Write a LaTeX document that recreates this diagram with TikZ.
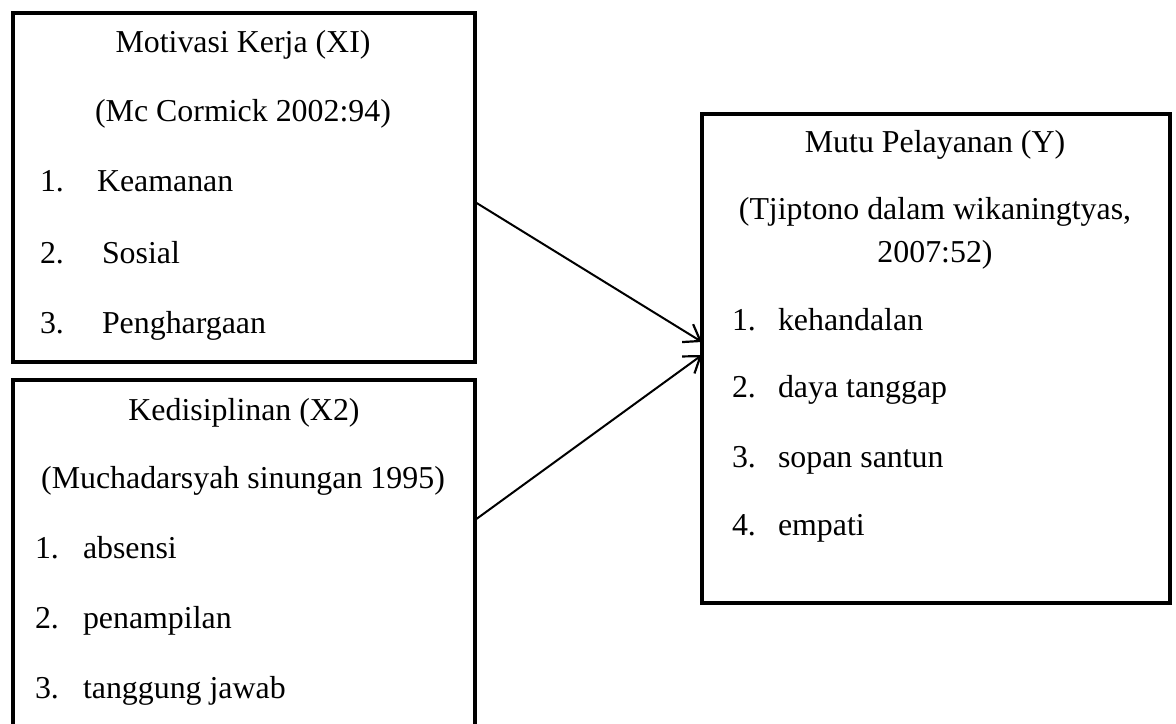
\documentclass[tikz,border=0pt]{standalone}
\usepackage{fontspec}
\setmainfont{Liberation Serif}
\usetikzlibrary{arrows.meta}
\begin{document}
\begin{tikzpicture}[x=1bp,y=-1bp,
  box/.style={draw,line width=4.5bp,inner sep=0pt,outer sep=0pt},
  txt/.style={inner sep=0pt,outer sep=0pt,font=\fontsize{32}{38}\selectfont},
  conn/.style={line width=2bp,-{Straight Barb[length=15bp,width=21bp,line width=2.2bp]}}]
\useasboundingbox (0,0) rectangle (1176,724);
\clip (0,0) rectangle (1176,724);
% boxes
\node[box,minimum width=462bp,minimum height=349bp] (b1) at (244,187.5) {};
\node[box,minimum width=462bp,minimum height=366bp] (b2) at (244,563) {};
\node[box,minimum width=468bp,minimum height=489bp] (b3) at (936,358.5) {};
% box 1 text
\node[txt,anchor=base] (t1a) at (243,53) {Motivasi Kerja (XI)};
\node[txt,anchor=base] (t1b) at (243,122) {(Mc Cormick 2002:94)};
\node[txt,anchor=base west] (n11) at (40,192) {1.};
\node[txt,anchor=base west] (i11) at (97,192) {Keamanan};
\node[txt,anchor=base west] (n12) at (40,263) {2.};
\node[txt,anchor=base west] (i12) at (102,263) {Sosial};
\node[txt,anchor=base west] (n13) at (40,333) {3.};
\node[txt,anchor=base west] (i13) at (102,333) {Penghargaan};
% box 2 text
\node[txt,anchor=base] (t2a) at (244,420) {Kedisiplinan (X2)};
\node[txt,anchor=base] (t2b) at (243,488) {(Muchadarsyah sinungan 1995)};
\node[txt,anchor=base west] (n21) at (35,558) {1.};
\node[txt,anchor=base west] (i21) at (83,558) {absensi};
\node[txt,anchor=base west] (n22) at (35,628) {2.};
\node[txt,anchor=base west] (i22) at (83,628) {penampilan};
\node[txt,anchor=base west] (n23) at (35,698) {3.};
\node[txt,anchor=base west] (i23) at (83,698) {tanggung jawab};
% box 3 text
\node[txt,anchor=base] (t3a) at (935,153) {Mutu Pelayanan (Y)};
\node[txt,anchor=base] (t3b) at (935,220) {(Tjiptono dalam wikaningtyas,};
\node[txt,anchor=base] (t3c) at (935,262) {2007:52)};
\node[txt,anchor=base west] (n31) at (732,330) {1.};
\node[txt,anchor=base west] (i31) at (778,330) {kehandalan};
\node[txt,anchor=base west] (n32) at (732,397) {2.};
\node[txt,anchor=base west] (i32) at (778,397) {daya tanggap};
\node[txt,anchor=base west] (n33) at (732,467) {3.};
\node[txt,anchor=base west] (i33) at (778,467) {sopan santun};
\node[txt,anchor=base west] (n34) at (732,535) {4.};
\node[txt,anchor=base west] (i34) at (778,535) {empati};
% connectors
\coordinate (s1) at (b1.east |- 0,202);
\coordinate (s2) at (b2.east |- 0,520);
\coordinate (e1) at (b3.west |- 0,342);
\coordinate (e2) at (b3.west |- 0,355);
\draw[conn] (s1) -- (e1);
\draw[conn] (s2) -- (e2);
\end{tikzpicture}
\end{document}
